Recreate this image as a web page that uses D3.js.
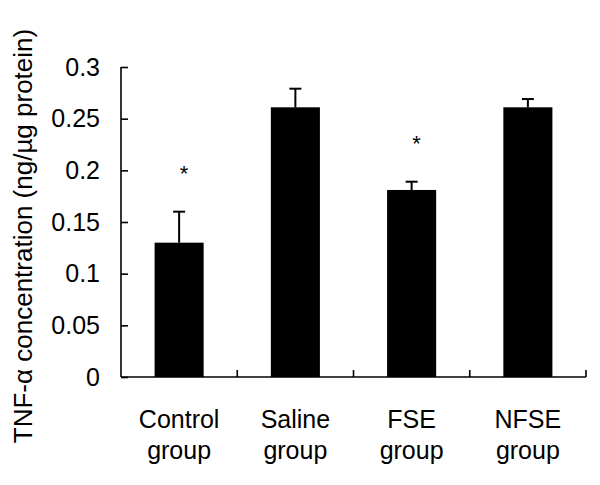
<!DOCTYPE html>
<html>
<head>
<meta charset="utf-8">
<script src="https://cdn.jsdelivr.net/npm/d3@7"></script>
<style>
  html, body { margin: 0; padding: 0; background: #fff; }
  svg { display: block; }
  text { font-family: "Liberation Sans", Arial, sans-serif; fill: #000; }
</style>
</head>
<body>
<svg id="chart" width="600" height="485"></svg>
<script>
// ---- data ----
const categories = ["Control group", "Saline group", "FSE group", "NFSE group"];
const labelLines = [["Control", "group"], ["Saline", "group"], ["FSE", "group"], ["NFSE", "group"]];
const means = [0.13, 0.261, 0.181, 0.261];
const errors = [0.03, 0.018, 0.008, 0.008];
const significance = ["*", "", "*", ""];
const yTicks = [0, 0.05, 0.1, 0.15, 0.2, 0.25, 0.3];
const yTickLabels = ["0", "0.05", "0.1", "0.15", "0.2", "0.25", "0.3"];
const yTitle = "TNF-α concentration (ng/µg protein)";

// ---- layout ----
const mLeft = 121, mRight = 586, mTop = 67, mBottom = 377;
const svg = d3.select("#chart");

const x = d3.scaleBand().domain(categories).range([mLeft, mRight])
  .paddingInner(0.578).paddingOuter(0.289);
const xb = d3.scaleBand().domain(categories).range([mLeft, mRight]).padding(0);
const y = d3.scaleLinear().domain([0, 0.3]).range([mBottom, mTop]);

// bars
svg.append("g").selectAll("rect").data(categories).join("rect")
  .attr("x", d => x(d))
  .attr("width", x.bandwidth())
  .attr("y", (d, i) => y(means[i]))
  .attr("height", (d, i) => y(0) - y(means[i]))
  .attr("fill", "#000");

// error bars
const eg = svg.append("g").attr("stroke", "#000").attr("stroke-width", 2);
categories.forEach((c, i) => {
  const cx = x(c) + x.bandwidth() / 2;
  eg.append("line").attr("x1", cx).attr("x2", cx)
    .attr("y1", y(means[i])).attr("y2", y(means[i] + errors[i]));
  eg.append("line").attr("x1", cx - 6).attr("x2", cx + 6)
    .attr("y1", y(means[i] + errors[i])).attr("y2", y(means[i] + errors[i]));
});

// significance marks
svg.append("g").selectAll("text").data(categories).join("text")
  .attr("x", d => x(d) + x.bandwidth() / 2 + 5)
  .attr("y", (d, i) => y(means[i] + errors[i]) - 42 + 11)
  .attr("text-anchor", "middle")
  .attr("font-family", "'Liberation Serif', serif")
  .attr("font-size", 22)
  .text((d, i) => significance[i]);

// y axis
const yAxis = d3.axisRight(y).tickValues(yTicks).tickSize(7).tickFormat("");
const ya = svg.append("g").attr("transform", `translate(${mLeft},0)`).call(yAxis);
ya.select(".domain").remove();
ya.selectAll("line").attr("stroke", "#000").attr("stroke-width", 1.6);
svg.append("line").attr("x1", mLeft).attr("x2", mLeft).attr("y1", mTop).attr("y2", mBottom)
  .attr("stroke", "#000").attr("stroke-width", 1.6);

svg.append("g").selectAll("text").data(yTicks).join("text")
  .attr("x", mLeft - 21)
  .attr("y", d => y(d))
  .attr("dy", "0.35em")
  .attr("text-anchor", "end")
  .attr("font-size", 25)
  .text((d, i) => yTickLabels[i]);

// x axis
const xTickPos = categories.map(c => xb(c) + xb.bandwidth());
svg.append("line").attr("x1", mLeft).attr("x2", mRight).attr("y1", mBottom).attr("y2", mBottom)
  .attr("stroke", "#000").attr("stroke-width", 1.6);
svg.append("g").selectAll("line").data(xTickPos).join("line")
  .attr("x1", d => d).attr("x2", d => d)
  .attr("y1", mBottom).attr("y2", mBottom - 7)
  .attr("stroke", "#000").attr("stroke-width", 1.6);

// category labels
const lg = svg.append("g").attr("font-size", 25).attr("text-anchor", "middle");
categories.forEach((c, i) => {
  const cx = xb(c) + xb.bandwidth() / 2;
  labelLines[i].forEach((t, j) => {
    lg.append("text").attr("x", cx).attr("y", 428 + j * 31).text(t);
  });
});

// y title
svg.append("text")
  .attr("transform", `translate(32,236) rotate(-90)`)
  .attr("text-anchor", "middle")
  .attr("font-size", 26)
  .text(yTitle);
</script>
</body>
</html>
